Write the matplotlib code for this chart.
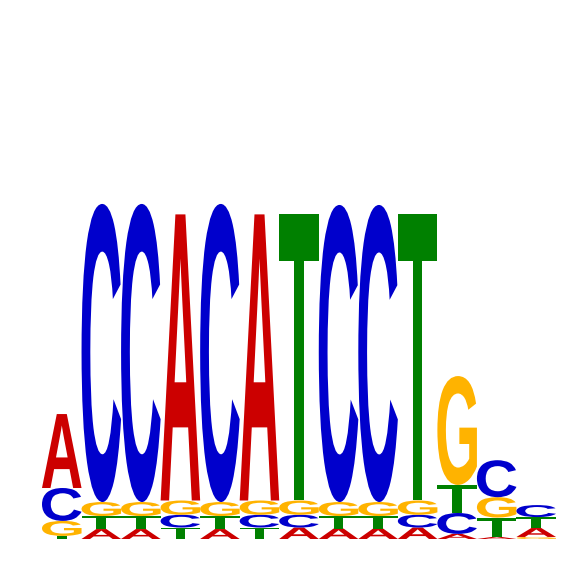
import matplotlib
matplotlib.use("Agg")
import matplotlib.pyplot as plt
import numpy as np
from matplotlib.textpath import TextPath
from matplotlib.patches import PathPatch
from matplotlib.font_manager import FontProperties
from matplotlib.transforms import Affine2D

# letter heights (bits) per position
positions = list(range(1, 14))
A = [0.290, 0.039, 0.039, 1.122, 0.039, 1.122, 0.045, 0.041, 0.041, 0.045, 0.020, 0.008, 0.035]
C = [0.129, 1.169, 1.169, 0.050, 1.169, 0.050, 0.050, 1.165, 1.165, 0.050, 0.082, 0.145, 0.047]
G = [0.059, 0.055, 0.055, 0.056, 0.055, 0.056, 0.056, 0.055, 0.055, 0.056, 0.427, 0.080, 0.008]
T = [0.012, 0.051, 0.051, 0.045, 0.051, 0.045, 1.122, 0.049, 0.049, 1.122, 0.110, 0.076, 0.043]

colors = {'A': '#cc0000', 'C': '#0000cc', 'G': '#ffb300', 'T': '#008000'}
fp = FontProperties(family='Liberation Sans', weight='bold')


def draw_letter(ax, letter, x, y, w, h):
    tp = TextPath((0, 0), letter, size=1, prop=fp)
    ext = tp.get_extents()
    tr = (Affine2D().translate(-ext.x0, -ext.y0)
          .scale(w / ext.width, h / ext.height)
          .translate(x, y))
    path = tr.transform_path(tp)
    ax.add_patch(PathPatch(path, facecolor=colors[letter], edgecolor='none'))


fig = plt.figure(figsize=(5.66, 5.66), dpi=100)
ax = fig.add_axes([42 / 566, 27 / 566, 514 / 566, 510 / 566])

heights = {'A': A, 'C': C, 'G': G, 'T': T}
for i, pos in enumerate(positions):
    stack = sorted([(heights[l][i], l) for l in 'ACGT'])
    y = 0
    for h, l in stack:
        draw_letter(ax, l, pos - 0.5, y, 1.0, h)
        y += h

ax.set_xlim(0.5, 13.5)
ax.set_ylim(0, 2)
ax.axis('off')

plt.savefig('out.png', dpi=100)
